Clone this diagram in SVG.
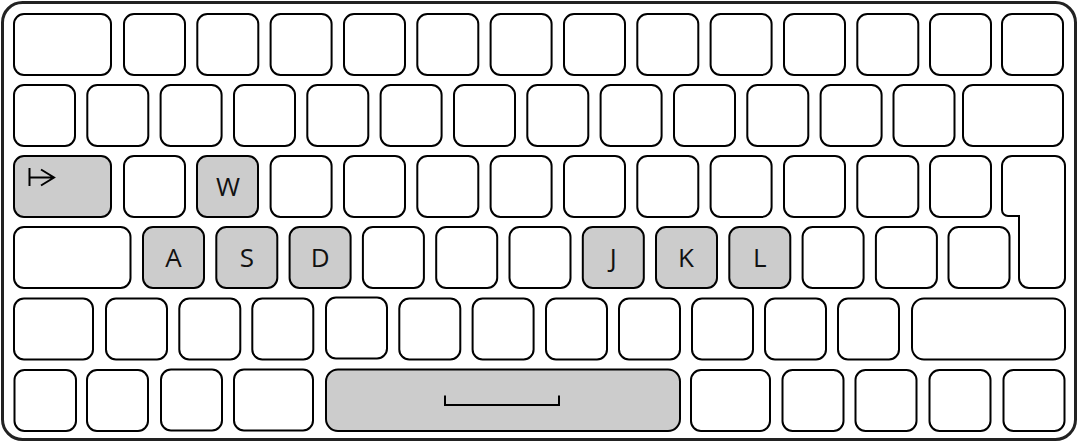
<svg xmlns="http://www.w3.org/2000/svg" width="1079" height="443" viewBox="0 0 1079 443">
<style>
.k{fill:#fff;stroke:#000;stroke-width:2}
.g{fill:#cccccc;stroke:#000;stroke-width:2}
.t{font-family:"Open Sans","Noto Sans",sans-serif;font-size:26px;fill:#111;text-anchor:middle}
.sym{fill:none;stroke:#000;stroke-width:2}
</style>
<rect x="2.5" y="2.5" width="1073" height="437" rx="20" fill="#fff" stroke="#222" stroke-width="3"/>
<g id="row1">
<rect class="k" x="14" y="14" width="97" height="61" rx="10"/>
<rect class="k" x="124" y="14" width="61" height="61" rx="10"/>
<rect class="k" x="197.3" y="14" width="61" height="61" rx="10"/>
<rect class="k" x="270.6" y="14" width="61" height="61" rx="10"/>
<rect class="k" x="344" y="14" width="61" height="61" rx="10"/>
<rect class="k" x="417.3" y="14" width="61" height="61" rx="10"/>
<rect class="k" x="490.6" y="14" width="61" height="61" rx="10"/>
<rect class="k" x="564" y="14" width="61" height="61" rx="10"/>
<rect class="k" x="637.3" y="14" width="61" height="61" rx="10"/>
<rect class="k" x="710.6" y="14" width="61" height="61" rx="10"/>
<rect class="k" x="784" y="14" width="61" height="61" rx="10"/>
<rect class="k" x="857.3" y="14" width="61" height="61" rx="10"/>
<rect class="k" x="930" y="14" width="61" height="61" rx="10"/>
<rect class="k" x="1002" y="14" width="61" height="61" rx="10"/>
</g>
<g id="row2">
<rect class="k" x="14" y="85" width="61" height="61" rx="10"/>
<rect class="k" x="87.3" y="85" width="61" height="61" rx="10"/>
<rect class="k" x="160.6" y="85" width="61" height="61" rx="10"/>
<rect class="k" x="234" y="85" width="61" height="61" rx="10"/>
<rect class="k" x="307.3" y="85" width="61" height="61" rx="10"/>
<rect class="k" x="380.6" y="85" width="61" height="61" rx="10"/>
<rect class="k" x="454" y="85" width="61" height="61" rx="10"/>
<rect class="k" x="527.3" y="85" width="61" height="61" rx="10"/>
<rect class="k" x="600.6" y="85" width="61" height="61" rx="10"/>
<rect class="k" x="674" y="85" width="61" height="61" rx="10"/>
<rect class="k" x="747.3" y="85" width="61" height="61" rx="10"/>
<rect class="k" x="820.6" y="85" width="61" height="61" rx="10"/>
<rect class="k" x="893.5" y="85" width="61" height="61" rx="10"/>
<rect class="k" x="963" y="85" width="100" height="61" rx="10"/>
</g>
<g id="row3">
<g id="key-tab">
<rect class="g" x="14" y="156" width="97" height="61" rx="10"/>
<path class="sym" d="M29.5 168V186M29.5 177.5H54M41 169.5L54 177.5L41 185.5" stroke-width="1.6"/>
</g>
<rect class="k" x="124" y="156" width="61" height="61" rx="10"/>
<g id="key-w">
<rect class="g" x="197" y="156" width="61" height="61" rx="10"/>
<text class="t" x="228" y="196">W</text>
</g>
<rect class="k" x="270.6" y="156" width="61" height="61" rx="10"/>
<rect class="k" x="344" y="156" width="61" height="61" rx="10"/>
<rect class="k" x="417.3" y="156" width="61" height="61" rx="10"/>
<rect class="k" x="490.6" y="156" width="61" height="61" rx="10"/>
<rect class="k" x="564" y="156" width="61" height="61" rx="10"/>
<rect class="k" x="637.3" y="156" width="61" height="61" rx="10"/>
<rect class="k" x="710.6" y="156" width="61" height="61" rx="10"/>
<rect class="k" x="784" y="156" width="61" height="61" rx="10"/>
<rect class="k" x="857.3" y="156" width="61" height="61" rx="10"/>
<rect class="k" x="930" y="156" width="61" height="61" rx="10"/>
<path id="key-enter" class="k" d="M1012 156H1055A10 10 0 0 1 1065 166V278A10 10 0 0 1 1055 288H1029A10 10 0 0 1 1019 278V216H1008A6 6 0 0 1 1002 210V166A10 10 0 0 1 1012 156Z"/>
</g>
<g id="row4">
<rect class="k" x="14" y="227" width="116.5" height="61" rx="10"/>
<g id="key-a">
<rect class="g" x="143" y="227" width="61" height="61" rx="10"/>
<text class="t" x="173.5" y="266.5">A</text>
</g>
<g id="key-s">
<rect class="g" x="216.3" y="227" width="61" height="61" rx="10"/>
<text class="t" x="246.8" y="266.5">S</text>
</g>
<g id="key-d">
<rect class="g" x="289.6" y="227" width="61" height="61" rx="10"/>
<text class="t" x="320.1" y="266.5">D</text>
</g>
<rect class="k" x="362.9" y="227" width="61" height="61" rx="10"/>
<rect class="k" x="436.2" y="227" width="61" height="61" rx="10"/>
<rect class="k" x="509.5" y="227" width="61" height="61" rx="10"/>
<g id="key-j">
<rect class="g" x="582.8" y="227" width="61" height="61" rx="10"/>
<text class="t" x="613.3" y="266.5">J</text>
</g>
<g id="key-k">
<rect class="g" x="656" y="227" width="61" height="61" rx="10"/>
<text class="t" x="686" y="266.5">K</text>
</g>
<g id="key-l">
<rect class="g" x="729.3" y="227" width="61" height="61" rx="10"/>
<text class="t" x="759.8" y="266.5">L</text>
</g>
<rect class="k" x="802.6" y="227" width="61" height="61" rx="10"/>
<rect class="k" x="875.9" y="227" width="61" height="61" rx="10"/>
<rect class="k" x="948.5" y="227" width="61" height="61" rx="10"/>
</g>
<g id="row5">
<rect class="k" x="14" y="298.5" width="79" height="61" rx="10"/>
<rect class="k" x="106" y="298.5" width="61" height="61" rx="10"/>
<rect class="k" x="179.3" y="298.5" width="61" height="61" rx="10"/>
<rect class="k" x="252.3" y="298.5" width="61" height="61" rx="10"/>
<rect class="k" x="326" y="297.5" width="61" height="61" rx="10"/>
<rect class="k" x="399.3" y="298.5" width="61" height="61" rx="10"/>
<rect class="k" x="472.6" y="298.5" width="61" height="61" rx="10"/>
<rect class="k" x="546" y="298.5" width="61" height="61" rx="10"/>
<rect class="k" x="619" y="298.5" width="61" height="61" rx="10"/>
<rect class="k" x="692" y="298.5" width="61" height="61" rx="10"/>
<rect class="k" x="765" y="298.5" width="61" height="61" rx="10"/>
<rect class="k" x="838" y="298.5" width="61" height="61" rx="10"/>
<rect class="k" x="912" y="298.5" width="153" height="61" rx="12"/>
</g>
<g id="row6">
<rect class="k" x="14.5" y="370" width="61.5" height="61" rx="10"/>
<rect class="k" x="87" y="370" width="61" height="61" rx="10"/>
<rect class="k" x="161" y="369.5" width="61" height="61" rx="10"/>
<rect class="k" x="234" y="369.5" width="79" height="61" rx="10"/>
<g id="key-space">
<rect class="g" x="326" y="369.5" width="354" height="61.5" rx="12"/>
<path class="sym" d="M445 395.5V405H559V395.5"/>
</g>
<rect class="k" x="691" y="370" width="79" height="61" rx="10"/>
<rect class="k" x="782.5" y="370" width="61" height="61" rx="10"/>
<rect class="k" x="855.5" y="370" width="61" height="61" rx="10"/>
<rect class="k" x="929.5" y="370" width="61" height="61" rx="10"/>
<rect class="k" x="1003.5" y="370" width="61" height="61" rx="10"/>
</g>
<g id="connectors"/>
</svg>
